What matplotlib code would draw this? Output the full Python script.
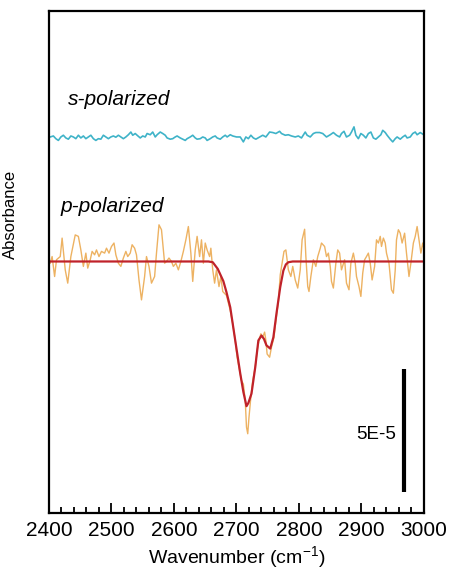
import matplotlib
matplotlib.use("Agg")
import matplotlib.pyplot as plt
from matplotlib.ticker import MultipleLocator

plt.rcParams['font.family'] = ['Liberation Sans', 'DejaVu Sans']

# wavenumber (cm-1) and absorbance (units of 1E-5)
p_x = [2402, 2405, 2409, 2412, 2418, 2421, 2426, 2430, 2435, 2442, 2447, 2451, 2455,
       2459, 2462, 2466, 2469, 2473, 2476, 2480, 2484, 2489, 2492, 2496, 2500, 2504,
       2507, 2511, 2515, 2519, 2523, 2526, 2530, 2533, 2537, 2540, 2544, 2548, 2553,
       2556, 2560, 2564, 2569, 2572, 2576, 2580, 2585, 2588, 2592, 2596, 2599, 2603,
       2607, 2611, 2615, 2619, 2623, 2627, 2630, 2634, 2637, 2641, 2644, 2647, 2650,
       2653, 2657, 2659, 2662, 2665, 2668, 2672, 2675, 2678, 2684, 2690, 2694, 2698,
       2701, 2705, 2708, 2711, 2714, 2716, 2718, 2720, 2723, 2726, 2730, 2733, 2736,
       2739, 2742, 2745, 2747, 2749, 2753, 2756, 2760, 2763, 2767, 2770, 2773, 2776,
       2779, 2783, 2787, 2790, 2794, 2798, 2802, 2805, 2809, 2811, 2814, 2816, 2819,
       2823, 2827, 2830, 2834, 2836, 2841, 2844, 2847, 2850, 2852, 2855, 2859, 2862,
       2865, 2868, 2873, 2876, 2880, 2883, 2887, 2890, 2892, 2896, 2899, 2902, 2905,
       2908, 2911, 2914, 2917, 2921, 2924, 2927, 2930, 2932, 2935, 2938, 2940, 2944,
       2948, 2951, 2954, 2956, 2959, 2962, 2965, 2969, 2972, 2976, 2979, 2983, 2986,
       2989, 2992, 2995, 2998, 3000]
p_y = [-0.07, 0.20, -0.61, 0.07, 0.20, 0.95, -0.34, -0.88, 0.20, 1.08, 1.02, 0.47, -0.20,
       0.34, -0.27, 0.07, 0.41, 0.27, 0.47, 0.20, 0.41, 0.34, 0.54, 0.34, 0.61, 0.75,
       0.27, -0.07, -0.20, 0.14, 0.41, 0.20, 0.34, 0.68, 0.54, 0.27, -0.75, -1.56, -0.61,
       0.20, -0.20, -0.88, -0.61, 0.34, 1.49, 1.29, -0.07, 0.00, 0.14, 0.00, -0.20, -0.07,
       -0.34, 0.00, 0.41, 0.88, 1.42, 0.34, -0.81, 0.47, 1.02, 0.20, 0.88, -0.07, 0.75,
       0.47, 0.20, 0.54, -0.34, -0.88, -0.34, -1.02, -0.61, -1.22, -1.38, -1.99, -2.53, -3.21,
       -3.89, -4.43, -4.84, -4.98, -5.65, -6.73, -7.00, -6.33, -5.51, -4.84, -4.30, -3.62, -3.21,
       -2.94, -3.08, -2.87, -3.21, -3.76, -3.89, -3.48, -3.08, -2.40, -1.63, -0.54, -0.07, 0.41,
       0.47, -0.34, -0.61, -0.20, -0.75, -1.08, -0.34, 0.88, 1.31, 0.20, -1.02, -1.22, -0.61,
       0.07, -0.20, 0.20, 0.54, 0.75, 0.61, 0.20, 0.34, -0.20, -0.81, -1.08, -0.07, 0.47,
       0.34, -0.34, 0.07, -0.88, -1.15, -0.07, 0.34, -0.07, -0.61, -1.02, -1.42, -0.47, 0.07,
       0.20, 0.34, -0.07, -0.75, -0.20, 0.88, 0.75, 1.02, 0.61, 0.95, 0.75, 0.34, -0.07,
       -1.15, -1.29, -0.34, 0.88, 1.29, 1.15, 0.75, 1.15, 0.34, -0.61, -0.07, 0.75, 1.02,
       1.42, 0.88, 0.34, 0.75, 0.50]

fit_x = [2400, 2640, 2655, 2662, 2670, 2679, 2684, 2690, 2698, 2706, 2711, 2714, 2716,
         2719, 2724, 2730, 2735, 2740, 2744, 2748, 2754, 2759, 2764, 2770, 2775, 2779,
         2783, 2790, 3000]
fit_y = [0, 0, 0, -0.03, -0.30, -0.80, -1.25, -1.86, -3.21, -4.55, -5.30, -5.65, -5.88,
         -5.75, -5.37, -4.30, -3.21, -3.01, -3.15, -3.41, -3.54, -3.08, -2.11, -1.04, -0.37,
         -0.12, -0.03, 0, 0]

s_x = [2402, 2407, 2411, 2415, 2419, 2423, 2427, 2431, 2435, 2439, 2443, 2447, 2451,
       2455, 2459, 2463, 2467, 2471, 2475, 2479, 2483, 2487, 2491, 2495, 2499, 2503,
       2507, 2511, 2515, 2519, 2523, 2527, 2531, 2534, 2538, 2541, 2546, 2550, 2554,
       2557, 2562, 2566, 2570, 2573, 2578, 2582, 2586, 2589, 2594, 2598, 2602, 2605,
       2610, 2614, 2618, 2621, 2626, 2630, 2634, 2637, 2642, 2646, 2650, 2653, 2658,
       2662, 2666, 2669, 2674, 2678, 2682, 2685, 2690, 2694, 2700, 2706, 2711, 2715,
       2719, 2723, 2727, 2731, 2737, 2742, 2747, 2753, 2758, 2763, 2769, 2772, 2778,
       2783, 2788, 2794, 2799, 2804, 2810, 2813, 2818, 2823, 2827, 2833, 2838, 2844,
       2850, 2855, 2860, 2865, 2868, 2872, 2876, 2881, 2884, 2888, 2891, 2895, 2899,
       2903, 2907, 2911, 2915, 2919, 2923, 2927, 2931, 2934, 2938, 2941, 2946, 2950,
       2954, 2957, 2962, 2966, 2970, 2973, 2978, 2982, 2986, 2989, 2994, 2999]
s_y = [0.00, 0.04, -0.07, -0.14, 0.00, 0.07, -0.04, -0.09, 0.04, 0.00, -0.07, 0.07, -0.04,
       0.04, -0.07, 0.00, 0.07, -0.07, -0.14, -0.07, -0.09, 0.07, 0.00, -0.07, 0.00, 0.04,
       -0.01, 0.07, 0.00, -0.07, 0.00, 0.09, 0.20, 0.07, 0.14, 0.07, -0.04, 0.04, 0.00,
       0.14, 0.09, 0.20, 0.00, 0.09, 0.20, 0.14, 0.07, -0.04, -0.09, -0.07, 0.00, 0.04,
       -0.04, -0.09, -0.14, -0.07, 0.00, 0.07, -0.04, -0.09, -0.07, 0.00, -0.04, -0.14, -0.07,
       0.00, 0.04, -0.04, -0.09, 0.00, 0.07, 0.00, 0.09, 0.04, 0.00, 0.00, -0.20, 0.00,
       -0.07, 0.07, -0.04, -0.09, 0.00, 0.07, 0.00, 0.20, 0.18, 0.14, 0.23, 0.14, 0.07,
       0.09, 0.04, 0.00, 0.04, -0.04, 0.20, 0.07, 0.00, 0.14, 0.18, 0.18, 0.14, 0.00,
       0.09, 0.18, 0.07, 0.00, 0.14, 0.23, 0.00, 0.07, 0.20, 0.41, 0.07, -0.07, 0.14,
       0.07, -0.04, 0.14, 0.20, -0.04, -0.09, 0.00, 0.09, 0.27, 0.18, 0.07, -0.09, -0.20,
       -0.07, 0.00, -0.09, 0.00, 0.07, -0.04, 0.00, 0.14, 0.20, 0.09, 0.18, 0.10]

p_offset = 10.22
s_offset = 15.28

fig = plt.figure(figsize=(4.49, 5.71), dpi=100)
ax = fig.add_axes([0.1091, 0.1016, 0.8352, 0.8792])

ax.plot(s_x, [v + s_offset for v in s_y], color='#3FB3C8', lw=1.2)
ax.plot(p_x, [v + p_offset for v in p_y], color='#EDB262', lw=1.0)
ax.plot(fit_x, [v + p_offset for v in fit_y], color='#C0222A', lw=1.6)

# scale bar 5E-5
ax.plot([2968, 2968], [0.85, 5.85], color='black', lw=3, solid_capstyle='butt')
ax.text(2955, 3.2, '5E-5', fontsize=13.5, ha='right', va='center')

ax.text(2430, 16.79, 's-polarized', fontsize=15, style='italic', va='center')
ax.text(2418, 12.44, 'p-polarized', fontsize=15, style='italic', va='center')

ax.set_xlim(2400, 3000)
ax.set_ylim(0, 20.4)
ax.set_xticks([2400, 2500, 2600, 2700, 2800, 2900, 3000])
ax.xaxis.set_minor_locator(MultipleLocator(20))
ax.set_yticks([])
ax.tick_params(axis='x', which='major', direction='in', length=7, width=1.3,
               labelsize=15, pad=6)
ax.tick_params(axis='x', which='minor', direction='in', length=4, width=1.3)
for sp in ax.spines.values():
    sp.set_linewidth(1.6)

ax.set_xlabel('Wavenumber (cm$^{\\mathregular{-1}}$)', fontsize=14, labelpad=3)
ax.set_ylabel('Absorbance', fontsize=12)
ax.yaxis.set_label_coords(-0.083, 0.594)

fig.savefig('out.png', dpi=100)
